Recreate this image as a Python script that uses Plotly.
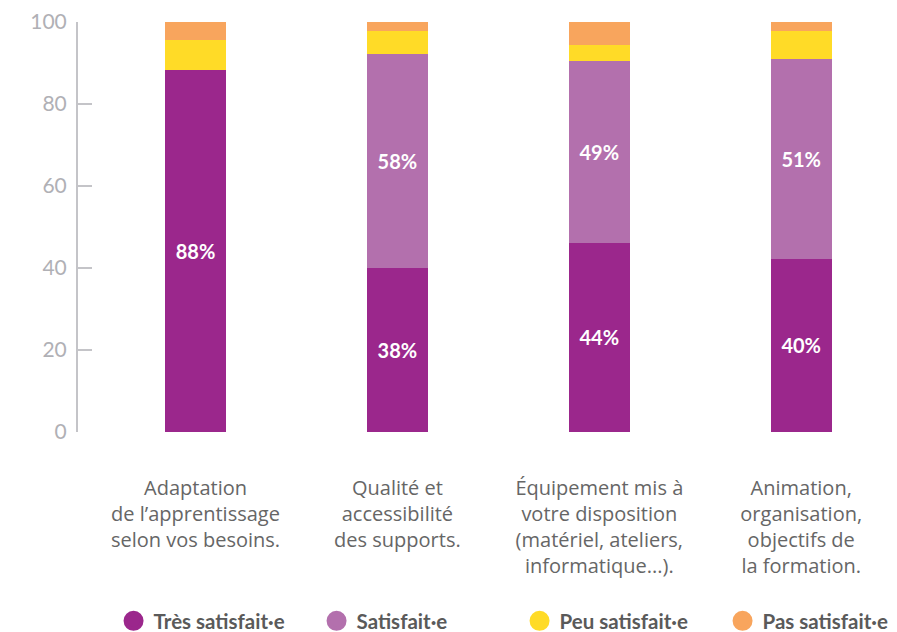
import plotly.graph_objects as go

categories = [
    "Adaptation<br>de l’apprentissage<br>selon vos besoins.",
    "Qualité et<br>accessibilité<br>des supports.",
    "Équipement mis à<br>votre disposition<br>(matériel, ateliers,<br>informatique...).",
    "Animation,<br>organisation,<br>objectifs de<br>la formation.",
]
series_names = ["Très satisfait·e", "Satisfait·e", "Peu satisfait·e", "Pas satisfait·e"]
tres = [88.3, 40.1, 46.1, 42.2]
satisf = [0, 52.1, 44.4, 48.8]
peu = [7.3, 5.6, 3.9, 6.8]
pas = [4.4, 2.2, 5.6, 2.2]
tres_labels = ["88%", "38%", "44%", "40%"]
satisf_labels = ["", "58%", "49%", "51%"]
y_ticks = [0, 20, 40, 60, 80, 100]

colors = ["#9B278C", "#B370AD", "#FFDB27", "#F8A55D"]
lato = "Lato, 'Open Sans', sans-serif"
opensans = "'Open Sans', Lato, sans-serif"

fig = go.Figure()
values = [tres, satisf, peu, pas]
labels = [tres_labels, satisf_labels, None, None]
for name, vals, col, lab in zip(series_names, values, colors, labels):
    fig.add_trace(go.Bar(
        x=categories, y=vals, name=name, marker_color=col,
        marker_line_width=0, width=0.302,
        text=lab, textposition="inside" if lab else "none",
        insidetextanchor="middle",
        textfont=dict(color="white", size=20, family=lato, weight="bold"),
        showlegend=False, hoverinfo="skip",
    ))
for name, col in zip(series_names, colors):
    fig.add_trace(go.Scatter(
        x=[None], y=[None], mode="markers", name=name,
        marker=dict(symbol="circle", size=16, color=col,
                    line=dict(color=col, width=4)),
        showlegend=True,
    ))

fig.update_layout(
    barmode="stack",
    width=897, height=632,
    margin=dict(l=70, r=0, t=14, b=208, autoexpand=False),
    plot_bgcolor="white", paper_bgcolor="white",
    font=dict(family=lato),
    uniformtext=dict(mode="show", minsize=10),
    legend=dict(
        orientation="h", x=0.043, xanchor="left", y=-0.461, yanchor="middle",
        font=dict(size=20.5, color="#5a5a5a", family=lato, weight="bold"),
        itemsizing="trace", entrywidth=158, traceorder="normal",
    ),
    xaxis=dict(
        type="category", range=[-0.582, 3.514], showgrid=False, showline=False,
        ticks="", ticklabelstandoff=42,
        tickfont=dict(size=20, color="#666666", family=opensans),
    ),
    yaxis=dict(
        range=[0, 100], tickvals=y_ticks, showgrid=False, zeroline=False,
        showline=True, linecolor="#c4c4c8", linewidth=2,
        ticks="inside", ticklen=14, tickwidth=2, tickcolor="#c4c4c8",
        tickfont=dict(size=21, color="#b0b0b5", family=lato),
        ticklabelstandoff=5,
    ),
)

fig.write_html("out.html")
